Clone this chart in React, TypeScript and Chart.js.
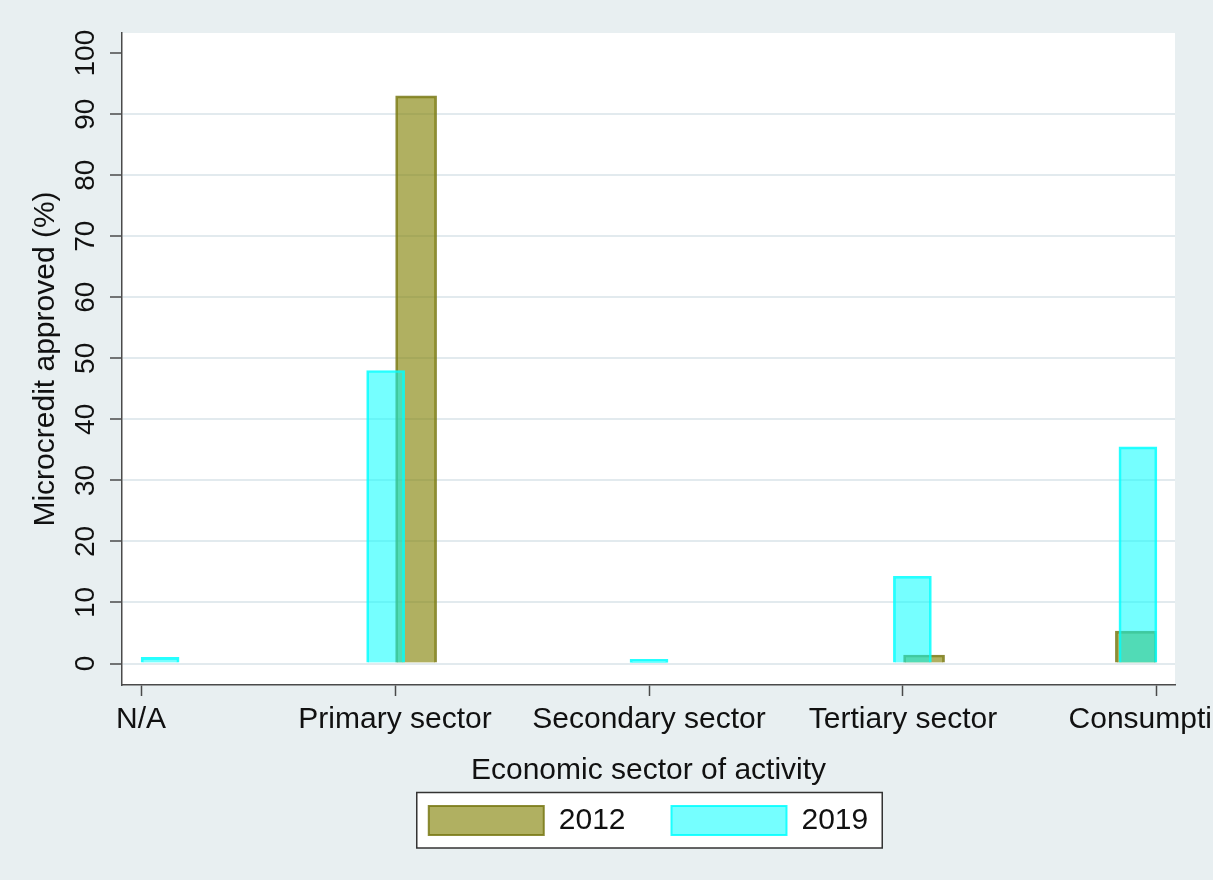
import React, { useEffect, useRef } from 'react';
import { Chart, registerables } from 'chart.js';

Chart.register(...registerables);

// ---- data ----
const categories = ['N/A', 'Primary sector', 'Secondary sector', 'Tertiary sector', 'Consumption'];
const categoryTicks = [0, 1, 2, 3, 4];
// x positions (in category units) and heights of bars
const pos2012 = [0.0, 1.083, 2.0, 3.083, 3.917];
const values2012: (number | null)[] = [null, 93, null, 1.4, 5.3];
const pos2019 = [0.075, 0.963, 2.0, 3.037, 3.925];
const values2019: (number | null)[] = [1.0, 48, 0.7, 14.3, 35.5];
const yTicks = [0, 10, 20, 30, 40, 50, 60, 70, 80, 90, 100];

const FONT = '"Liberation Sans", Arial, Helvetica, sans-serif';
const BG = '#e8eff1';
const AXIS = '#4a4a4a';
const TEXT = '#111111';

const plotBackground = {
  id: 'plotBackground',
  beforeDraw(chart: any) {
    const { ctx, chartArea } = chart;
    ctx.save();
    ctx.fillStyle = BG;
    ctx.fillRect(0, 0, chart.width, chart.height);
    ctx.fillStyle = '#ffffff';
    ctx.fillRect(chartArea.left, chartArea.top, chartArea.right - chartArea.left, chartArea.bottom - chartArea.top);
    const lg = chart.legend;
    if (lg && lg.legendHitBoxes && lg.legendHitBoxes.length) {
      const hb = lg.legendHitBoxes;
      const left = hb[0].left - 12;
      const last = hb[hb.length - 1];
      const right = last.left + last.width + 14;
      const top = hb[0].top - 13;
      const bottom = hb[0].top + hb[0].height + 12.5;
      ctx.fillStyle = '#ffffff';
      ctx.fillRect(left, top, right - left, bottom - top);
      ctx.strokeStyle = '#333333';
      ctx.lineWidth = 1.5;
      ctx.strokeRect(left, top, right - left, bottom - top);
    }
    ctx.restore();
  },
};

export default function App() {
  const ref = useRef<HTMLCanvasElement | null>(null);

  useEffect(() => {
    if (!ref.current) return;
    const chart = new Chart(ref.current, {
      type: 'bar',
      data: {
        datasets: [
          {
            label: '2012',
            data: pos2012.map((x, i) => ({ x, y: values2012[i] })) as any,
            backgroundColor: 'rgba(128,128,0,0.62)',
            borderColor: 'rgba(120,120,20,0.85)',
            borderWidth: 2,
            barThickness: 41,
            grouped: false,
            order: 1,
          } as any,
          {
            label: '2019',
            data: pos2019.map((x, i) => ({ x, y: values2019[i] })) as any,
            backgroundColor: 'rgba(0,255,255,0.54)',
            borderColor: 'rgba(0,255,255,0.85)',
            borderWidth: 2,
            barThickness: 38,
            grouped: false,
            order: 0,
          } as any,
        ],
      },
      options: {
        animation: false,
        responsive: false,
        maintainAspectRatio: false,
        events: [],
        layout: { padding: { top: 33, left: 0, right: 38, bottom: 34.5 } },
        scales: {
          x: {
            type: 'linear',
            min: -0.075,
            max: 4.071,
            offset: false,
            afterBuildTicks: (a: any) => {
              a.ticks = categoryTicks.map((v) => ({ value: v }));
            },
            afterFit: (a: any) => {
              a.height = 74.5;
              a.paddingLeft = 0;
              a.paddingRight = 0;
            },
            ticks: {
              callback: (v: any) => categories[v as number] ?? '',
              font: { family: FONT, size: 30 },
              color: TEXT,
              padding: 6,
              autoSkip: false,
              maxRotation: 0,
              minRotation: 0,
            },
            grid: { offset: false, drawOnChartArea: false, tickLength: 11, tickColor: AXIS, tickWidth: 1.5 },
            border: { color: AXIS, width: 1.5 },
            title: {
              display: true,
              text: 'Economic sector of activity',
              font: { family: FONT, size: 30 },
              color: TEXT,
              padding: { top: 0, bottom: -29.5 },
            },
          },
          y: {
            type: 'linear',
            min: -3.52,
            max: 103.3,
            afterBuildTicks: (a: any) => {
              a.ticks = yTicks.map((v) => ({ value: v }));
            },
            afterFit: (a: any) => {
              a.width = 122;
              a.paddingTop = 0;
              a.paddingBottom = 0;
            },
            ticks: {
              minRotation: 90,
              maxRotation: 90,
              crossAlign: 'center',
              padding: 0,
              font: { family: FONT, size: 28 },
              color: TEXT,
            },
            grid: {
              color: (ctx: any) => (ctx.tick && ctx.tick.value === 100 ? 'rgba(0,0,0,0)' : '#e2eaee'),
              lineWidth: 2,
              tickColor: AXIS,
              tickLength: 12,
              tickWidth: 1.5,
            },
            border: { color: AXIS, width: 1.5 },
            title: {
              display: true,
              text: 'Microcredit approved (%)',
              font: { family: FONT, size: 30 },
              color: TEXT,
              padding: { top: 28, bottom: 0 },
            },
          },
        },
        plugins: {
          legend: {
            position: 'bottom',
            fullSize: false,
            labels: {
              boxWidth: 115,
              boxHeight: 29,
              padding: 46,
              font: { family: FONT, size: 30 },
              color: TEXT,
              sort: (a: any, b: any) => a.datasetIndex - b.datasetIndex,
            },
          },
          tooltip: { enabled: false },
        },
      } as any,
      plugins: [plotBackground],
    });
    return () => chart.destroy();
  }, []);

  return (
    <div style={{ position: 'absolute', left: 0, top: 0, width: 1213, height: 880, overflow: 'hidden', background: BG }}>
      <canvas ref={ref} width={1213} height={880} style={{ display: 'block' }} />
    </div>
  );
}
